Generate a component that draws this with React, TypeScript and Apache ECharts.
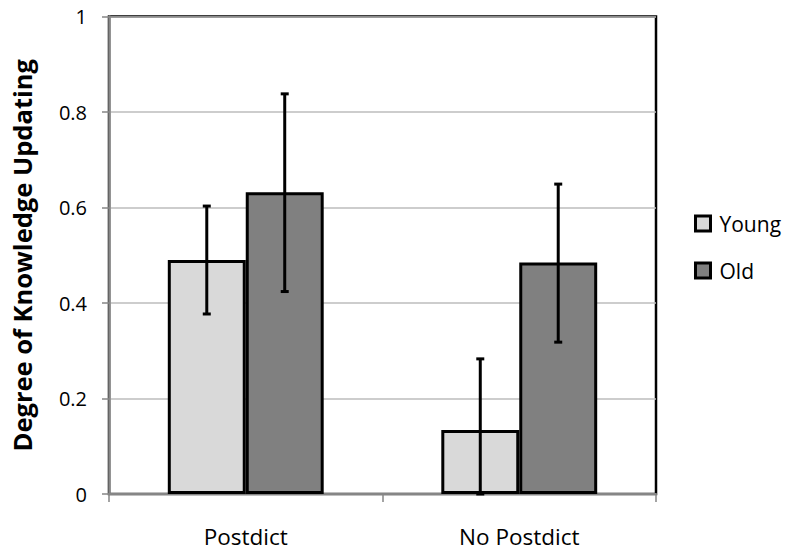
import React, { useEffect, useRef } from "react";
import * as echarts from "echarts";

const categories = ["Postdict", "No Postdict"];
const seriesNames = ["Young", "Old"];
const youngValues = [0.49, 0.134];
const oldValues = [0.632, 0.485];
const youngUpper = [0.603, 0.283];
const youngLower = [0.377, 0.0];
const oldUpper = [0.838, 0.649];
const oldLower = [0.424, 0.318];
const yTicks = [0, 0.2, 0.4, 0.6, 0.8, 1];

const FONT = "Open Sans";
const BAR_FRAC = 0.285;

function errSeries(name: string, upper: number[], lower: number[], side: number) {
  return {
    name: name + " err",
    type: "custom",
    z: 10,
    silent: true,
    data: categories.map((_, i) => [i, upper[i], lower[i]]),
    renderItem: (params: any, api: any) => {
      const idx = api.value(0);
      const hi = api.coord([idx, api.value(1)]);
      const lo = api.coord([idx, api.value(2)]);
      const band = api.size([1, 0])[0];
      const x = hi[0] + side * band * BAR_FRAC / 2;
      const cap = 4;
      const style = { stroke: "#000", lineWidth: 3 };
      return {
        type: "group",
        children: [
          { type: "line", shape: { x1: x, y1: hi[1], x2: x, y2: lo[1] }, style },
          { type: "line", shape: { x1: x - cap, y1: hi[1], x2: x + cap, y2: hi[1] }, style },
          { type: "line", shape: { x1: x - cap, y1: lo[1], x2: x + cap, y2: lo[1] }, style },
        ],
      };
    },
  };
}

export default function App() {
  const ref = useRef<HTMLDivElement>(null);
  useEffect(() => {
    if (!ref.current) return;
    const chart = echarts.init(ref.current, null, { renderer: "svg" });
    chart.setOption({
      animation: false,
      backgroundColor: "#fff",
      grid: {
        left: 109,
        top: 16.5,
        right: 131,
        bottom: 59,
        show: true,
        borderColor: "#000",
        borderWidth: 2.5,
        backgroundColor: "transparent",
      },
      legend: {
        orient: "vertical",
        left: 689,
        top: 208,
        itemWidth: 15,
        itemHeight: 15,
        itemGap: 26,
        data: seriesNames.map((n) => ({ name: n, icon: "rect" })),
        textStyle: { fontFamily: FONT, fontSize: 21, color: "#000", padding: [0, 0, 0, 4] },
        itemStyle: { borderColor: "#000", borderWidth: 3 },
      },
      xAxis: {
        type: "category",
        data: categories,
        boundaryGap: true,
        axisLine: { lineStyle: { color: "#868686", width: 2 } },
        axisTick: { show: true, length: 8, lineStyle: { color: "#868686", width: 1.5 } },
        axisLabel: { fontFamily: FONT, fontSize: 22.5, color: "#000", margin: 31 },
      },
      yAxis: {
        type: "value",
        min: 0,
        max: 1,
        interval: 0.2,
        name: "Degree of Knowledge Updating",
        nameLocation: "middle",
        nameGap: 74,
        nameTextStyle: { fontFamily: FONT, fontSize: 25.5, fontWeight: "bold", color: "#000" },
        axisLine: { show: true, lineStyle: { color: "#868686", width: 2.5 } },
        axisTick: { show: true, length: 7, lineStyle: { color: "#868686", width: 1.5 } },
        splitLine: { lineStyle: { color: "#BDBDBD", width: 1.5 } },
        axisLabel: {
          fontFamily: FONT,
          fontSize: 20,
          color: "#000",
          margin: 22,
          formatter: (v: number) => (yTicks.includes(Math.round(v * 10) / 10) ? String(Math.round(v * 10) / 10) : ""),
        },
      },
      series: [
        {
          name: "Young",
          type: "bar",
          data: youngValues,
          barWidth: BAR_FRAC * 100 + "%",
          barGap: "0%",
          itemStyle: { color: "#D9D9D9", borderColor: "#000", borderWidth: 3 },
        },
        {
          name: "Old",
          type: "bar",
          data: oldValues,
          barWidth: BAR_FRAC * 100 + "%",
          barGap: "0%",
          itemStyle: { color: "#808080", borderColor: "#000", borderWidth: 3 },
        },
        errSeries("Young", youngUpper, youngLower, -1),
        errSeries("Old", oldUpper, oldLower, 1),
      ],
    });
    return () => chart.dispose();
  }, []);
  return <div ref={ref} style={{ width: 787, height: 553, position: "absolute", left: 0, top: 0 }} />;
}
